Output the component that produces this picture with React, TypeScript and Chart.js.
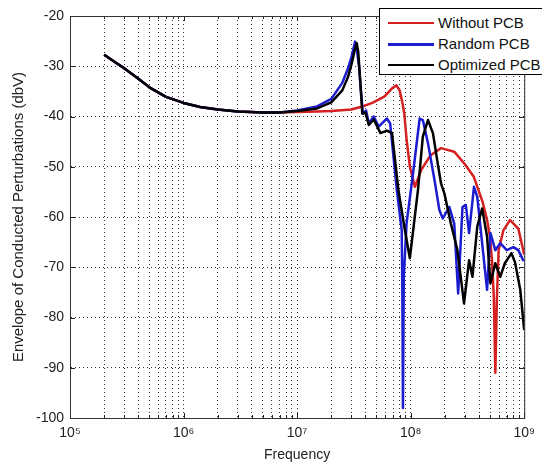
import React, { useEffect, useRef } from 'react';
import { Chart, registerables } from 'chart.js';

Chart.register(...registerables);

// Shared low-frequency part (all three curves coincide here)
const lowFreq = [2e5, 2.5e5, 3e5, 4e5, 5e5, 7e5, 1e6, 1.4e6, 2e6, 3e6, 5e6, 7e6];
const lowVal = [-27.7, -29.2, -30.4, -32.5, -34.2, -36.1, -37.3, -38.1, -38.6, -39.0, -39.2, -39.2];

const redFreq = [1e7, 1.5e7, 2e7, 3e7, 3.75e7, 4.6e7, 5.9e7, 6.85e7, 7.5e7, 8.0e7, 8.5e7, 8.8e7, 9.2e7, 9.84e7, 1.09e8, 1.24e8, 1.5e8, 1.85e8, 2.42e8, 3.0e8, 3.6e8, 4.3e8, 4.71e8, 5.0e8, 5.2e8, 5.4e8, 5.57e8, 5.75e8, 5.95e8, 6.57e8, 7.5e8, 8.87e8, 9.8e8, 1e9];
const redVal = [-39.1, -39.0, -38.9, -38.6, -38.0, -37.3, -36.0, -34.4, -33.8, -34.8, -37.5, -39.5, -44.5, -50.0, -54.0, -50.6, -47.7, -46.3, -47.0, -49.5, -52.0, -57.0, -60.6, -64.0, -68.6, -76.0, -91.0, -76.0, -66.6, -62.6, -60.6, -62.3, -66.6, -67.5];

const blueFreq = [1e7, 1.5e7, 2e7, 2.5e7, 2.8e7, 3.0e7, 3.15e7, 3.24e7, 3.35e7, 3.51e7, 3.65e7, 3.8e7, 4.05e7, 4.28e7, 4.73e7, 5.23e7, 6.18e7, 6.6e7, 7.55e7, 8.34e7, 8.45e7, 8.55e7, 8.7e7, 9.2e7, 1.05e8, 1.2e8, 1.28e8, 1.42e8, 1.62e8, 1.79e8, 1.92e8, 2.19e8, 2.42e8, 2.62e8, 2.86e8, 3.06e8, 3.27e8, 3.61e8, 3.86e8, 4.26e8, 4.71e8, 5.04e8, 5.56e8, 6.15e8, 7.02e8, 8.03e8, 8.87e8, 9.8e8, 1e9];
const blueVal = [-38.8, -38.0, -36.5, -33.3, -30.5, -28.3, -26.3, -25.1, -26.5, -30.0, -35.0, -39.5, -38.8, -41.4, -40.0, -42.0, -40.4, -41.4, -54.6, -62.6, -75.0, -98.0, -72.0, -61.3, -51.3, -40.4, -40.7, -45.3, -52.6, -58.6, -60.3, -58.0, -61.3, -75.2, -58.0, -57.6, -63.2, -54.0, -56.0, -65.2, -74.5, -63.2, -66.6, -65.2, -66.6, -66.0, -66.6, -68.6, -68.5];

const blackFreq = [1e7, 1.5e7, 2e7, 2.5e7, 2.8e7, 3.0e7, 3.2e7, 3.35e7, 3.45e7, 3.6e7, 3.75e7, 4.0e7, 4.28e7, 4.73e7, 5.42e7, 6.18e7, 6.85e7, 7.8e7, 8.8e7, 9.84e7, 1.16e8, 1.28e8, 1.42e8, 1.57e8, 1.73e8, 1.85e8, 1.98e8, 2.26e8, 2.58e8, 2.95e8, 3.27e8, 3.5e8, 3.86e8, 4.26e8, 4.71e8, 5.04e8, 5.56e8, 6.15e8, 6.75e8, 7.72e8, 8.3e8, 9.23e8, 1e9];
const blackVal = [-38.9, -38.4, -37.2, -34.8, -32.2, -29.8, -27.0, -25.4, -27.0, -33.0, -39.4, -39.2, -41.7, -40.6, -43.3, -42.8, -43.3, -54.6, -62.0, -68.2, -54.6, -44.0, -40.7, -43.3, -49.3, -53.3, -55.3, -61.3, -66.6, -77.2, -68.6, -71.9, -61.9, -58.3, -63.9, -73.2, -69.2, -71.9, -69.2, -67.2, -69.0, -74.5, -82.5];

const seriesLabels = ['Without PCB', 'Random PCB', 'Optimized PCB'];
const seriesColors = ['#d42020', '#1c1cd0', '#000000'];

const xMajorTicks = [1e5, 1e6, 1e7, 1e8, 1e9];
const xTickLabels = ['10\u2075', '10\u2076', '10\u2077', '10\u2078', '10\u2079'];
const xMinorSteps = [2, 3, 4, 5, 6, 7, 8, 9];

const xTitle = 'Frequency';
const yTitle = 'Envelope of Conducted Perturbations (dbV)';

const FONT = '"Liberation Sans", Arial, Helvetica, sans-serif';

function toPoints(f: number[], v: number[]) {
  return f.map((x, i) => ({ x, y: v[i] }));
}

function isMajor(v: number) {
  const l = Math.log10(v);
  return Math.abs(l - Math.round(l)) < 1e-9;
}

const boxPlugin = {
  id: 'matlabBox',
  beforeDatasetsDraw(chart: any) {
    const { ctx, chartArea: a, scales } = chart;
    const x = scales.x;
    const y = scales.y;
    ctx.save();
    ctx.strokeStyle = '#222';
    ctx.lineWidth = 1;
    ctx.setLineDash([]);
    ctx.beginPath();
    x.ticks.forEach((t: any) => {
      const px = Math.round(x.getPixelForValue(t.value)) + 0.5;
      const len = isMajor(t.value) ? 5 : 3;
      ctx.moveTo(px, a.bottom);
      ctx.lineTo(px, a.bottom - len);
      ctx.moveTo(px, a.top);
      ctx.lineTo(px, a.top + len);
    });
    y.ticks.forEach((t: any) => {
      const py = Math.round(y.getPixelForValue(t.value)) + 0.5;
      ctx.moveTo(a.left, py);
      ctx.lineTo(a.left + 5, py);
      ctx.moveTo(a.right, py);
      ctx.lineTo(a.right - 5, py);
    });
    ctx.stroke();
    ctx.strokeStyle = '#333';
    ctx.strokeRect(a.left + 0.5, a.top + 0.5, a.right - a.left, a.bottom - a.top);
    ctx.restore();
  },
};

export default function App() {
  const ref = useRef<HTMLCanvasElement | null>(null);

  useEffect(() => {
    document.body.style.margin = '0';
    const canvas = ref.current;
    if (!canvas) return;
    const data = [
      toPoints([...lowFreq, ...redFreq], [...lowVal, ...redVal]),
      toPoints([...lowFreq, ...blueFreq], [...lowVal, ...blueVal]),
      toPoints([...lowFreq, ...blackFreq], [...lowVal, ...blackVal]),
    ];
    const chart = new Chart(canvas, {
      type: 'scatter',
      data: {
        datasets: data.map((d, i) => ({
          label: seriesLabels[i],
          data: d,
          showLine: true,
          borderColor: seriesColors[i],
          backgroundColor: seriesColors[i],
          borderWidth: 2.5,
          pointRadius: 0,
          pointHoverRadius: 0,
          borderJoinStyle: 'round' as const,
          tension: 0,
          order: 3 - i,
        })),
      },
      options: {
        responsive: false,
        animation: false,
        maintainAspectRatio: false,
        layout: { padding: { top: 16, right: 11, left: 0, bottom: 0 } },
        plugins: {
          legend: { display: false },
          tooltip: { enabled: false },
        },
        scales: {
          x: {
            type: 'logarithmic',
            min: 1e5,
            max: 1e9,
            afterFit: (s: any) => {
              s.height = 46;
            },
            afterBuildTicks: (s: any) => {
              const ticks: any[] = [];
              xMajorTicks.forEach((m, idx) => {
                ticks.push({ value: m });
                if (idx < xMajorTicks.length - 1) {
                  xMinorSteps.forEach((k) => ticks.push({ value: k * m }));
                }
              });
              s.ticks = ticks;
            },
            ticks: {
              autoSkip: false,
              maxRotation: 0,
              minRotation: 0,
              padding: 7,
              color: '#222',
              font: { family: FONT, size: 14 },
              callback: (v: any) => {
                const i = xMajorTicks.findIndex((m) => Math.abs(m - Number(v)) / m < 1e-6);
                return i >= 0 ? xTickLabels[i] : '';
              },
            },
            grid: {
              color: 'rgba(0,0,0,0.8)',
              lineWidth: 1,
              drawTicks: false,
              tickLength: 0,
            },
            border: { display: true, color: '#333', width: 1, dash: [1, 3] },
            title: {
              display: true,
              text: xTitle,
              color: '#222',
              font: { family: FONT, size: 14 },
              padding: { top: 0, bottom: 0 },
            },
          },
          y: {
            type: 'linear',
            min: -100,
            max: -20,
            afterFit: (s: any) => {
              s.width = 70;
            },
            ticks: {
              stepSize: 10,
              padding: 6,
              color: '#222',
              font: { family: FONT, size: 14 },
            },
            grid: {
              color: 'rgba(0,0,0,0.8)',
              lineWidth: 1,
              drawTicks: false,
              tickLength: 0,
            },
            border: { display: true, color: '#333', width: 1, dash: [1, 3] },
            title: {
              display: true,
              text: yTitle,
              color: '#222',
              font: { family: FONT, size: 15 },
              padding: { top: 10, bottom: 0 },
            },
          },
        },
      } as any,
      plugins: [boxPlugin],
    });
    return () => chart.destroy();
  }, []);

  const legendTop = 8;
  const rowY = [13.5, 35, 55.5];

  return (
    <div style={{ position: 'relative', width: 542, height: 464, overflow: 'hidden', background: '#fff' }}>
      <canvas ref={ref} width={542} height={464} style={{ display: 'block', width: 542, height: 464 }} />
      <div
        style={{
          position: 'absolute',
          left: 379,
          top: legendTop,
          width: 175,
          height: 67,
          border: '1px solid #000',
          background: '#fff',
          boxSizing: 'border-box',
          fontFamily: FONT,
          fontSize: 15,
          color: '#111',
        }}
      >
        {seriesLabels.map((lab, i) => (
          <div key={lab} style={{ position: 'absolute', left: 0, top: rowY[i] - 9, height: 18, width: '100%' }}>
            <div
              style={{
                position: 'absolute',
                left: 8,
                top: 8,
                width: 46,
                height: 2.5,
                background: seriesColors[i],
              }}
            />
            <div style={{ position: 'absolute', left: 58, top: 0, lineHeight: '18px', whiteSpace: 'nowrap' }}>{lab}</div>
          </div>
        ))}
      </div>
    </div>
  );
}
